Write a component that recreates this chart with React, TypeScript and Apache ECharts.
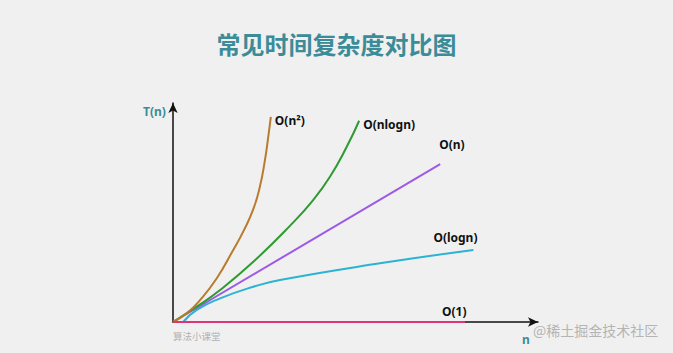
import React, { useEffect, useRef } from "react";
import * as echarts from "echarts";

const titleText = "常见时间复杂度对比图";
const seriesNames = ["O(n²)", "O(nlogn)", "O(n)", "O(logn)", "O(1)"];
const quadratic = [[0, 0], [3.75, 3.97], [7.4, 10.0], [12.0, 20.0], [16.5, 32.9], [19.3, 41.5], [22.0, 51.5], [23.8, 61.8], [25.2, 74.0], [26.1, 84.6], [26.8, 93.7]];
const nlogn = [[0, 0], [6.5, 7.0], [12.9, 14.6], [22.0, 27.5], [32.1, 44.0], [38.4, 55.7], [43.0, 66.3], [47.6, 80.0], [51.0, 91.9]];
const linear = [[0, 0], [73.2, 72.1]];
const logn = [[2.8, 0], [6.5, 5.5], [12.9, 10.8], [22.0, 16.1], [29.3, 19.2], [56.7, 26.8], [82.3, 32.9]];
const constant = [[0, 0], [80, 0]];
const colors = ["#b97b2d", "#2e9a32", "#9d5ae6", "#2bb3d3", "#e0337c"];
const labelOffsets = [[-4, 4], [-4, 4], [-9, -20], [-48, -12], [-31, -11]];

export default function App() {
  const ref = useRef<HTMLDivElement>(null);
  useEffect(() => {
    document.body.style.margin = "0";
    const chart = echarts.init(ref.current!, null, { renderer: "svg" });
    const datasets = [quadratic, nlogn, linear, logn, constant];
    chart.setOption({
      animation: false,
      backgroundColor: "#f0f0f0",
      title: {
        text: titleText,
        left: "center",
        top: 26,
        textStyle: { color: "#3b8c98", fontSize: 24, fontWeight: "bold", fontFamily: "Noto Sans CJK SC" },
      },
      grid: { left: 173, right: 135, top: 103, bottom: 31 },
      xAxis: {
        type: "value",
        min: 0,
        max: 100,
        axisLine: { show: true, symbol: ["none", "arrow"], symbolSize: [7, 10], lineStyle: { color: "#111", width: 1.5 } },
        axisTick: { show: false },
        axisLabel: { show: false },
        splitLine: { show: false },
      },
      yAxis: {
        type: "value",
        min: 0,
        max: 100,
        axisLine: { show: true, symbol: ["none", "arrow"], symbolSize: [7, 10], lineStyle: { color: "#111", width: 1.5 } },
        axisTick: { show: false },
        axisLabel: { show: false },
        splitLine: { show: false },
      },
      series: datasets.map((d, i) => ({
        name: seriesNames[i],
        type: "line",
        data: d,
        smooth: i === 2 || i === 4 ? false : 0.5,
        showSymbol: false,
        z: 10 - i + (i === 4 ? 10 : 0),
        lineStyle: { color: colors[i], width: 2 },
        endLabel: {
          show: true,
          formatter: seriesNames[i],
          color: "#111",
          fontSize: 12,
          fontWeight: "bold",
          fontFamily: "Noto Sans",
          offset: labelOffsets[i],
        },
      })),
      graphic: [
        { type: "text", left: 143, top: 105, style: { text: "T(n)", fill: "#3b8c98", fontSize: 12, fontWeight: "bold", fontFamily: "Noto Sans" } },
        { type: "text", left: 522, top: 333, style: { text: "n", fill: "#3b8c98", fontSize: 12, fontWeight: "bold", fontFamily: "Noto Sans" } },
        { type: "text", left: 173, top: 331, style: { text: "算法小课堂", fill: "#b0b0b0", fontSize: 9.5, fontFamily: "Noto Sans CJK SC" } },
        { type: "text", left: 533, top: 323, style: { text: "@稀土掘金技术社区", fill: "#b4b4b4", fontSize: 14, fontFamily: "Noto Sans CJK SC" } },
      ],
    });
    return () => chart.dispose();
  }, []);
  return <div ref={ref} style={{ width: 673, height: 353 }} />;
}
